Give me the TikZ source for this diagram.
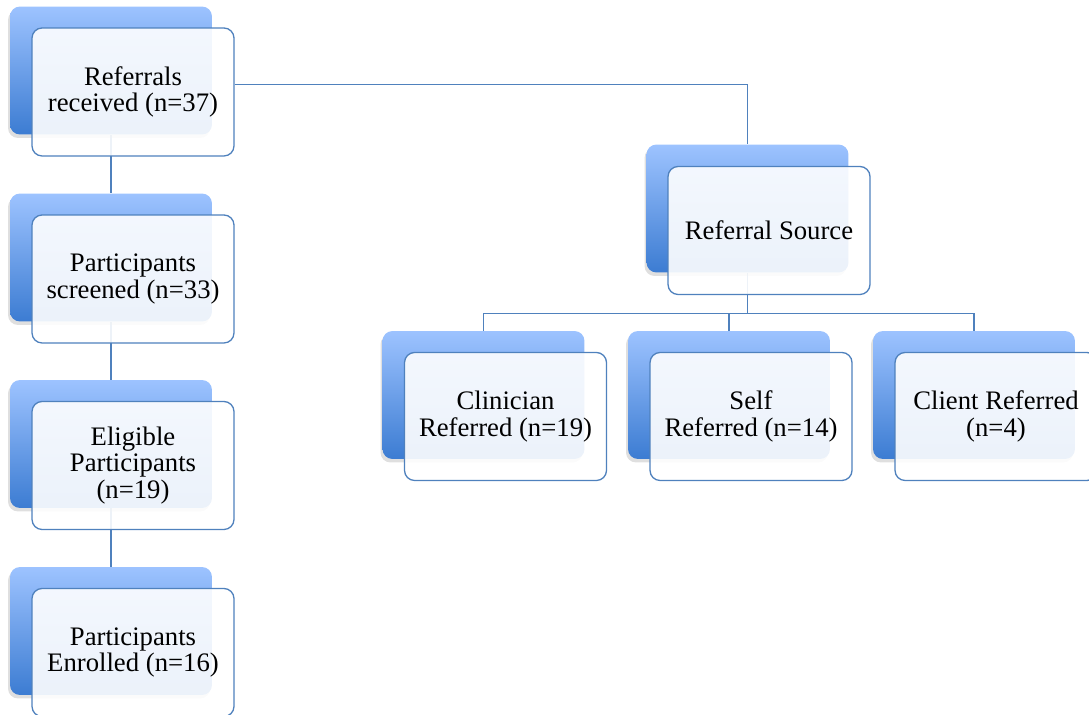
\documentclass[tikz,border=0pt]{standalone}
\usepackage{fontspec}
\setmainfont{Liberation Serif}
\usetikzlibrary{shadows,backgrounds}
\definecolor{boxline}{RGB}{79,129,189}
\definecolor{backtop}{RGB}{157,195,255}
\definecolor{backbot}{RGB}{60,124,210}

\begin{document}
\begin{tikzpicture}
   [x=0.02cm, y=-0.02cm,
   back/.style={rounded corners=0.2cm, minimum width=4.04cm, minimum height=2.56cm,
      top color=backtop, bottom color=backbot, draw=none,
      drop shadow={shadow xshift=-0.04cm, shadow yshift=-0.07cm, opacity=0.25}},
   front/.style={rounded corners=0.2cm, minimum width=4.04cm, minimum height=2.56cm,
      draw=boxline, line width=0.75pt, fill=white, fill opacity=0.9, text opacity=1,
      align=center, font=\fontsize{15.2}{15.3}\selectfont},
   link/.style={draw=boxline, line width=0.6pt}]
\useasboundingbox (0,0) rectangle (1089,715);

% left column
\foreach \nm/\y/\txt in {ref/70.5/{Referrals\\received (n=37)},
   scr/257.5/{Participants\\screened (n=33)},
   elig/444/{Eligible\\Participants\\(n=19)},
   enr/631/{Participants\\Enrolled (n=16)}} {
   \node[back] (\nm B) at (111,\y) {};
   \node[front] (\nm F) at (133,\y+21.5) {\txt}; }

% source and its branches
\node[back] (srcB) at (747.5,208.5) {};
\node[front] (srcF) at (769,230.5) {Referral Source};

\foreach \nm/\x/\txt in {clin/483.5/{Clinician\\Referred (n=19)},
   self/729/{Self\\Referred (n=14)},
   client/974/{Client Referred\\(n=4)}} {
   \node[back] (\nm B) at (\x,395) {};
   \node[front] (\nm F) at (\x+22,416.5) {\txt}; }

\begin{scope}[on background layer]
\draw[link] ([yshift=0.15cm]refF.east) -| (srcB.north);
\draw[link] (refB.south) -- (scrB.north);
\draw[link] (scrB.south) -- (eligB.north);
\draw[link] (eligB.south) -- (enrB.north);
\coordinate (fork) at ([yshift=-0.81cm]srcB.south);
\draw[link] (srcB.south) -- (fork);
\draw[link] (clinB.north) |- (fork) -| (clientB.north);
\draw[link] (fork) -| (selfB.north);
\end{scope}
\end{tikzpicture}
\end{document}
